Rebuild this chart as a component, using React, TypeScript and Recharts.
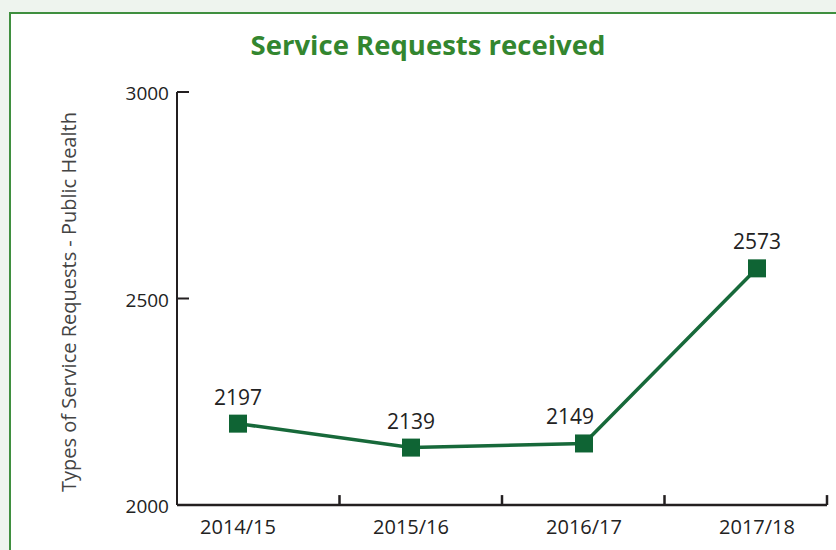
import { LineChart, Line, XAxis, YAxis, LabelList, ReferenceLine } from "recharts"

const years = ["2014/15", "2015/16", "2016/17", "2017/18"]
const requests = [2197, 2139, 2149, 2573]
const yTicks = [2000, 2500, 3000]

const data = years.map((year, i) => ({ year, requests: requests[i] }))

// the original draws its x tick marks at the edges of 4 equal bands that span the axis,
// not at the points; the helper axis runs 0..(n-1) across the plot width
const markSpan = years.length - 1
const bandMarks = years.map((_, i) => ((i + 1) * markSpan) / years.length)

const AXIS = "#231f20"
const LINE = "#17693a"
const MARKER = "#0f6434"
const font = "'Open Sans', 'Noto Sans', sans-serif"

const SquareDot = (props: any) => {
  const { cx, cy } = props
  if (cx == null || cy == null) return null
  return <rect x={cx - 9} y={cy - 9} width={18} height={18} fill={MARKER} />
}

const YTick = (props: any) => {
  const { x, y, payload } = props
  return (
    <g>
      <line x1={x + 8} x2={x + 20} y1={y} y2={y} stroke={AXIS} strokeWidth={2} />
      <text x={x} y={y} dy={8} textAnchor="end" fontSize={19} fill="#222" fontFamily={font}>
        {payload.value}
      </text>
    </g>
  )
}

const XTick = (props: any) => {
  const { x, y, payload } = props
  return (
    <text x={x} y={y} dy={29} textAnchor="middle" fontSize={20} fill="#222" fontFamily={font}>
      {payload.value}
    </text>
  )
}

const ValueLabel = (props: any) => {
  const { x, y, value, index } = props
  // the 2016/17 label sits a little left of its point in the original
  const dx = index === 2 ? -14 : 0
  return (
    <text x={x + dx} y={y} dy={-19} textAnchor="middle" fontSize={21} fill="#222" fontFamily={font}>
      {value}
    </text>
  )
}

export default function App() {
  return (
    <div style={{ position: "absolute", left: 0, top: 0, width: 836, height: 550, background: "#eef4ee", overflow: "hidden" }}>
      <div
        style={{
          position: "absolute",
          left: 9,
          top: 12,
          width: 900,
          height: 600,
          background: "#fff",
          borderTop: "2px solid #3f8f3f",
          borderLeft: "2px solid #3f8f3f",
        }}
      />
      <div
        style={{
          position: "absolute",
          left: 0,
          width: 856,
          top: 26,
          textAlign: "center",
          fontFamily: font,
          fontWeight: 700,
          fontSize: 27.5,
          color: "#33862f",
        }}
      >
        Service Requests received
      </div>
      <div
        style={{
          position: "absolute",
          left: 68,
          top: 302,
          transform: "translate(-50%, -50%) rotate(-90deg)",
          whiteSpace: "nowrap",
          fontFamily: font,
          fontSize: 20,
          color: "#444",
        }}
      >
        Types of Service Requests - Public Health
      </div>
      <div style={{ position: "absolute", left: 0, top: 0 }}>
        <LineChart width={836} height={550} data={data} margin={{ top: 92, right: 9, bottom: 0, left: 0 }}>
          <XAxis
            dataKey="year"
            type="category"
            height={45}
            padding={{ left: 61, right: 70 }}
            axisLine={{ stroke: AXIS, strokeWidth: 2.5 }}
            tickLine={false}
            tickSize={0}
            tickMargin={0}
            tick={<XTick />}
            interval={0}
          />
          <XAxis xAxisId="marks" type="number" domain={[0, markSpan]} allowDataOverflow hide />
          <YAxis
            width={177}
            domain={[2000, 3000]}
            ticks={yTicks}
            axisLine={{ stroke: AXIS, strokeWidth: 2 }}
            tickLine={false}
            tickSize={0}
            tickMargin={8}
            tick={<YTick />}
          />
          {bandMarks.map((m) => (
            <ReferenceLine
              key={m}
              xAxisId="marks"
              segment={[
                { x: m, y: 2000 },
                { x: m, y: 2024 },
              ]}
              stroke={AXIS}
              strokeWidth={2.5}
              ifOverflow="visible"
            />
          ))}
          <Line
            type="linear"
            dataKey="requests"
            stroke={LINE}
            strokeWidth={3.5}
            dot={<SquareDot />}
            activeDot={false}
            isAnimationActive={false}
          >
            <LabelList dataKey="requests" content={<ValueLabel />} />
          </Line>
        </LineChart>
      </div>
    </div>
  )
}
